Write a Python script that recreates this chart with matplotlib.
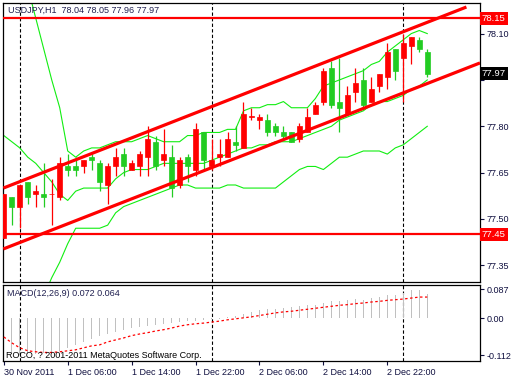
import matplotlib
matplotlib.use("Agg")
import matplotlib.pyplot as plt
import matplotlib.transforms as mtransforms
import numpy as np

# USDJPY H1 candles (bar 0 = 30 Nov 2011 22:00)
opens = [77.44, 77.57, 77.54, 77.62, 77.58, 77.58, 77.58, 77.57, 77.67, 77.67,
         77.67, 77.70, 77.68, 77.61, 77.67, 77.71, 77.66, 77.67, 77.70, 77.75,
         77.69, 77.70, 77.61, 77.70, 77.66, 77.78, 77.67, 77.70, 77.70, 77.75,
         77.73, 77.83, 77.82, 77.82, 77.80, 77.78, 77.78, 77.76, 77.78, 77.84,
         77.88, 77.99, 77.88, 77.84, 77.91, 77.95, 77.88, 77.93, 77.96, 78.05,
         78.02, 78.06, 78.08, 78.04]
highs = [77.58, 77.57, 77.61, 77.62, 77.61, 77.68, 77.63, 77.70, 77.71, 77.70,
         77.69, 77.71, 77.69, 77.68, 77.73, 77.73, 77.69, 77.72, 77.80, 77.77,
         77.79, 77.74, 77.70, 77.71, 77.81, 77.78, 77.76, 77.76, 77.78, 77.80,
         77.88, 77.86, 77.84, 77.84, 77.81, 77.80, 77.78, 77.81, 77.86, 77.88,
         77.99, 78.01, 78.02, 77.93, 77.99, 77.99, 77.96, 77.97, 78.07, 78.05,
         78.10, 78.09, 78.09, 78.05]
lows = [77.44, 77.48, 77.47, 77.55, 77.54, 77.54, 77.48, 77.56, 77.64, 77.64,
        77.65, 77.66, 77.59, 77.55, 77.64, 77.64, 77.66, 77.64, 77.64, 77.66,
        77.67, 77.57, 77.60, 77.62, 77.64, 77.66, 77.66, 77.67, 77.70, 77.72,
        77.73, 77.82, 77.79, 77.77, 77.77, 77.76, 77.75, 77.75, 77.78, 77.84,
        77.87, 77.86, 77.78, 77.84, 77.88, 77.86, 77.88, 77.91, 77.92, 77.95,
        77.88, 78.00, 78.04, 77.96]
closes = [77.58, 77.54, 77.61, 77.57, 77.59, 77.57, 77.58, 77.68, 77.66, 77.66,
          77.69, 77.69, 77.62, 77.67, 77.70, 77.67, 77.68, 77.71, 77.76, 77.67,
          77.71, 77.60, 77.69, 77.67, 77.79, 77.69, 77.69, 77.71, 77.76, 77.74,
          77.84, 77.83, 77.83, 77.78, 77.78, 77.77, 77.75, 77.80, 77.83, 77.87,
          77.98, 77.87, 77.86, 77.90, 77.94, 77.87, 77.92, 77.97, 78.04, 77.98,
          78.07, 78.09, 78.05, 77.97]

# Bollinger bands
bb_upper = [78.45, 78.38, 78.31, 78.25, 78.15, 78.05, 77.95, 77.86, 77.72, 77.70,
            77.72, 77.73, 77.73, 77.74, 77.75, 77.75, 77.75, 77.76, 77.77, 77.76,
            77.75, 77.75, 77.75, 77.77, 77.77, 77.78, 77.78, 77.78, 77.79, 77.79,
            77.85, 77.86, 77.86, 77.87, 77.87, 77.88, 77.86, 77.86, 77.86, 77.89,
            77.93, 77.94, 77.95, 77.96, 77.97, 77.98, 78.00, 78.01, 78.04, 78.06,
            78.08, 78.10, 78.11, 78.10]
bb_middle = [77.77, 77.75, 77.73, 77.70, 77.68, 77.65, 77.62, 77.58, 77.56, 77.59,
             77.60, 77.60, 77.60, 77.60, 77.63, 77.65, 77.66, 77.66, 77.66, 77.67,
             77.68, 77.68, 77.68, 77.68, 77.68, 77.68, 77.69, 77.70, 77.71, 77.72,
             77.73, 77.73, 77.74, 77.74, 77.75, 77.75, 77.75, 77.76, 77.77, 77.78,
             77.79, 77.80, 77.82, 77.83, 77.84, 77.85, 77.87, 77.88, 77.88, 77.89,
             77.90, 77.92, 77.93, 77.95]
bb_lower = [77.09, 77.12, 77.16, 77.15, 77.21, 77.25, 77.31, 77.36, 77.42, 77.47,
            77.47, 77.47, 77.47, 77.48, 77.52, 77.54, 77.55, 77.56, 77.57, 77.58,
            77.59, 77.60, 77.61, 77.61, 77.60, 77.60, 77.60, 77.60, 77.61, 77.61,
            77.60, 77.60, 77.60, 77.60, 77.60, 77.62, 77.64, 77.66, 77.67, 77.67,
            77.66, 77.68, 77.70, 77.70, 77.71, 77.72, 77.72, 77.72, 77.71, 77.73,
            77.74, 77.76, 77.78, 77.80]

# MACD(12,26,9)
macd_main = [-0.095, -0.108, -0.112, -0.110, -0.108, -0.107, -0.105, -0.100, -0.090, -0.080,
             -0.072, -0.062, -0.055, -0.048, -0.042, -0.036, -0.031, -0.027, -0.024, -0.020,
             -0.017, -0.014, -0.012, -0.010, -0.008, -0.005, -0.002, -0.002, 0.002, 0.006,
             0.014, 0.019, 0.026, 0.029, 0.029, 0.030, 0.035, 0.037, 0.040, 0.039,
             0.047, 0.053, 0.053, 0.054, 0.057, 0.055, 0.060, 0.063, 0.070, 0.070,
             0.075, 0.086, 0.086, 0.072]
macd_signal = [-0.057, -0.075, -0.090, -0.099, -0.102, -0.104, -0.104, -0.102, -0.099, -0.096,
               -0.090, -0.084, -0.081, -0.072, -0.066, -0.060, -0.053, -0.048, -0.044, -0.039,
               -0.035, -0.030, -0.024, -0.020, -0.017, -0.015, -0.012, -0.009, -0.005, -0.002,
               0.001, 0.004, 0.008, 0.012, 0.016, 0.019, 0.021, 0.024, 0.027, 0.030,
               0.033, 0.036, 0.039, 0.041, 0.044, 0.046, 0.049, 0.051, 0.054, 0.056,
               0.058, 0.061, 0.064, 0.064]

tick_bars = [0, 8, 16, 24, 32, 40, 48]
tick_labels = ["30 Nov 2011", "1 Dec 06:00", "1 Dec 14:00", "1 Dec 22:00",
               "2 Dec 06:00", "2 Dec 14:00", "2 Dec 22:00"]
day_separators = [2, 26, 50]
price_ticks = [78.10, 77.95, 77.80, 77.65, 77.50, 77.35]
level_lines = [78.15, 77.45]
channel_top = ([-0.06, 57.9], [77.600, 78.186])
channel_bottom = ([-0.06, 59.6], [77.403, 78.005])
last_price = 77.97
macd_ticks = [0.087, 0.0, -0.112]
macd_tick_labels = ["0.087", "0.00", "-0.112"]

W, H = 520, 380
plt.rcParams['font.family'] = ['Liberation Sans', 'DejaVu Sans']
plt.rcParams['font.size'] = 6.5

fig = plt.figure(figsize=(W / 100, H / 100), dpi=100)
fig.patch.set_facecolor('white')


def px_box(l, t, r, b):
    return [l / W, 1 - b / H, (r - l) / W, (b - t) / H]


ax = fig.add_axes(px_box(3, 3, 480, 282))
ax2 = fig.add_axes(px_box(3, 285, 480, 361), sharex=ax)

x = np.arange(len(opens))
o = np.array(opens)
c = np.array(closes)
up = c >= o
colors = np.where(up, '#ff0000', '#22cc22')

# wicks and bodies
ax.vlines(x, lows, highs, colors=colors, lw=0.9, zorder=3)
body_bottom = np.minimum(o, c)
body_height = np.maximum(np.abs(c - o), 0.002)
ax.bar(x, body_height, bottom=body_bottom, width=0.6, color=colors,
       edgecolor=colors, lw=0.5, zorder=4)

# bollinger bands
for band in (bb_upper, bb_middle, bb_lower):
    ax.plot(x, band, color='#11ee11', lw=0.8, zorder=2)

# drawn objects
for lvl in level_lines:
    ax.axhline(lvl, color='#ff0000', lw=1.6, zorder=5)
ax.plot(*channel_top, color='#ff0000', lw=2.3, zorder=5, solid_capstyle='butt')
ax.plot(*channel_bottom, color='#ff0000', lw=2.3, zorder=5, solid_capstyle='butt')

for a in (ax, ax2):
    for d in day_separators:
        a.axvline(d, color='black', lw=0.8, ls=(0, (3, 2)), zorder=1)
    for s in a.spines.values():
        s.set_color('black')
        s.set_linewidth(0.9)
    a.yaxis.tick_right()
    a.tick_params(axis='y', direction='out', length=3, width=0.8, pad=1.5,
                  colors='#101040')

ax.set_xlim(-0.1, 59.6)
ax.set_ylim(77.296, 78.199)
ax.set_yticks(price_ticks)
# the 77.95 label sits under the last-price box, so only its tick shows
ax.set_yticklabels(["" if abs(p - last_price) < 0.05 else f"{p:.2f}"
                    for p in price_ticks])
ax.tick_params(axis='x', bottom=False, labelbottom=False)

# price labels on the right axis
blend = mtransforms.blended_transform_factory(ax.transAxes, ax.transData)
for lvl in level_lines:
    ax.text(1.004, lvl, f"{lvl:.2f}", transform=blend, ha='left', va='center',
            color='white', fontsize=6.8, zorder=10, clip_on=False,
            bbox=dict(boxstyle='square,pad=0.2', fc='#ff0000', ec='none'))
ax.text(1.004, last_price, f"{last_price:.2f}", transform=blend, ha='left',
        va='center', color='white', fontsize=6.8, zorder=10, clip_on=False,
        bbox=dict(boxstyle='square,pad=0.2', fc='black', ec='none'))

# MACD panel
ax2.bar(x, macd_main, width=0.14, color='#c0c0c0', zorder=2)
ax2.plot(x, macd_signal, color='#ff0000', lw=0.9, ls=(0, (2, 2)), zorder=3)
ax2.set_ylim(-0.130, 0.1006)
ax2.set_yticks(macd_ticks)
ax2.set_yticklabels(macd_tick_labels)
ax2.set_xticks(tick_bars)
ax2.set_xticklabels(tick_labels, ha='left')
ax2.tick_params(axis='x', direction='out', length=3, width=0.8, pad=2,
                colors='#101040')

fig.text(8 / W, 1 - 10 / H, "USDJPY,H1  78.04 78.05 77.96 77.97",
         va='center', ha='left', color='#202050')
fig.text(7 / W, 1 - 294 / H, "MACD(12,26,9) 0.072 0.064",
         va='center', ha='left', color='#202050')
fig.text(6 / W, 1 - 355 / H, "ROCO, ? 2001-2011 MetaQuotes Software Corp.",
         va='center', ha='left', color='black')

fig.savefig("out.png", dpi=100, facecolor='white')
